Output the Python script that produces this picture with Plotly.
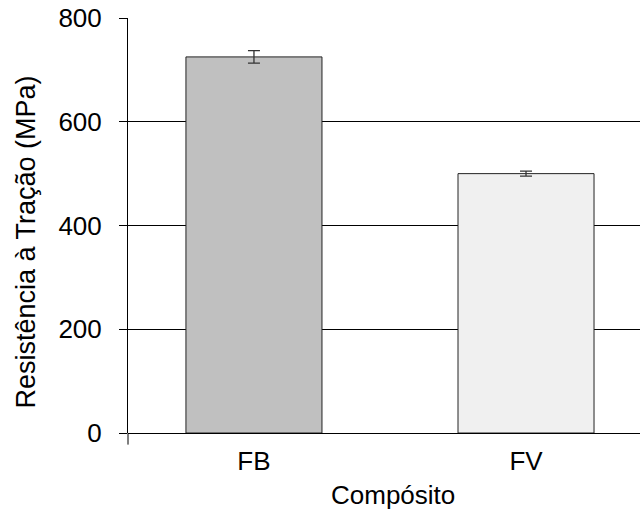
import plotly.graph_objects as go

categories = ["FB", "FV"]
values = [725, 500]
errors = [12, 5]
colors = ["#c0c0c0", "#f0f0f0"]
y_ticks = [0, 200, 400, 600, 800]

FONT = "Arial, Liberation Sans, sans-serif"

fig = go.Figure()
fig.add_trace(go.Bar(
    x=[0, 1], y=values, width=0.5,
    marker=dict(color=colors, line=dict(color="#222222", width=1)),
    error_y=dict(type="data", array=errors, visible=True, color="#333333", thickness=1.3, width=6),
))

fig.update_layout(
    width=640, height=510,
    margin=dict(l=128, r=0, t=18, b=77),
    paper_bgcolor="white", plot_bgcolor="white",
    showlegend=False,
    font=dict(family=FONT, size=26, color="black"),
    xaxis=dict(
        range=[-0.463, 1.419],
        tickmode="array", tickvals=[0, 1], ticktext=categories,
        showgrid=False, zeroline=False, showline=False,
        ticks="", tickfont=dict(size=26), ticklabelstandoff=10,
    ),
    yaxis=dict(
        range=[0, 800],
        tickmode="array", tickvals=y_ticks,
        showgrid=True, gridcolor="black", gridwidth=1,
        zeroline=True, zerolinecolor="black", zerolinewidth=1,
        showline=True, linecolor="black", linewidth=1,
        ticks="outside", ticklen=8, tickcolor="black",
        tickfont=dict(size=26), ticklabelstandoff=12,
    ),
    annotations=[
        dict(text="Compósito", xref="paper", yref="paper", x=0.5176, y=0,
             xanchor="center", yanchor="middle", yshift=-62, showarrow=False,
             font=dict(size=26, family=FONT, color="black")),
        dict(text="Resistência à Tração (MPa)", xref="paper", yref="paper", x=0, y=0.459,
             xanchor="center", yanchor="middle", xshift=-102, textangle=-90, showarrow=False,
             font=dict(size=27, family=FONT, color="black")),
    ],
)
# small tick below the axis corner
fig.add_shape(type="line", xref="paper", yref="paper", x0=0, x1=0, y0=0, y1=-0.028,
              line=dict(color="black", width=1))

fig.write_html("out.html", config={"displayModeBar": False},
               post_script="document.body.style.margin='0';document.body.style.overflow='hidden';")
